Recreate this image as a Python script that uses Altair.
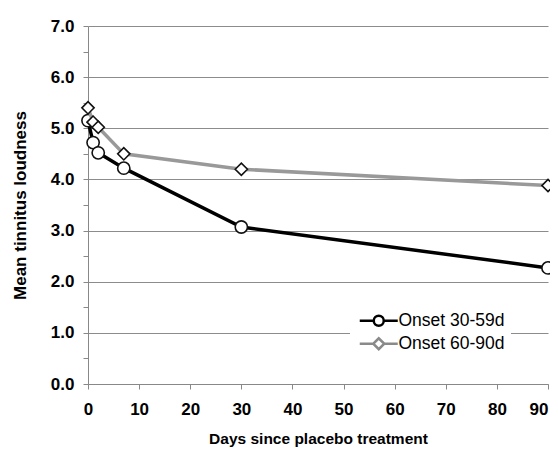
import altair as alt
import pandas as pd

series_names = ["Onset 30-59d", "Onset 60-90d"]
days_a = [0, 1, 2, 7, 30, 90]
loud_a = [5.15, 4.72, 4.52, 4.22, 3.07, 2.27]
days_b = [0, 1, 2, 7, 30, 90]
loud_b = [5.40, 5.12, 5.02, 4.50, 4.20, 3.88]
x_ticks = [0, 10, 20, 30, 40, 50, 60, 70, 80, 90]
y_ticks = [0, 0.5, 1, 1.5, 2, 2.5, 3, 3.5, 4, 4.5, 5, 5.5, 6, 6.5, 7]

line_colors = ["#000000", "#999999"]
marker_shapes = ["circle", "diamond"]
legend_strokes = ["#000000", "#8a8a8a"]
legend_paths = [
    "M-3.8,0H-1M1,0H3.8M1,0A1,1 0 1,1 -1,0A1,1 0 1,1 1,0Z",
    "M-3.8,0H-1.1M1.1,0H3.8M1.1,0L0,-1.1L-1.1,0L0,1.1Z",
]

df = pd.DataFrame({
    "day": days_a + days_b,
    "loud": loud_a + loud_b,
    "series": [series_names[0]] * len(days_a) + [series_names[1]] * len(days_b),
})

FONT = "Liberation Sans, Arial"

x_enc = alt.X(
    "day:Q",
    scale=alt.Scale(domain=[0, 90], nice=False),
    axis=alt.Axis(
        values=x_ticks, title="Days since placebo treatment", grid=False,
        labelFont=FONT, labelFontWeight="bold", labelFontSize=17, labelColor="#000",
        labelAlign={"condition": {"test": "datum.value == 90", "value": "right"}, "value": "center"},
        titleFont=FONT, titleFontWeight="bold", titleFontSize=15.5, titleColor="#000",
        domainColor="#888", tickColor="#888", tickSize=5, labelPadding=12, titlePadding=14,
        labelFlush=False,
    ),
)
y_enc = alt.Y(
    "loud:Q",
    scale=alt.Scale(domain=[0, 7], nice=False),
    axis=alt.Axis(
        values=y_ticks, title="Mean tinnitus loudness",
        labelExpr="datum.value % 1 == 0 ? format(datum.value, '.1f') : ''",
        gridOpacity={"condition": {"test": "datum.value % 1 != 0", "value": 0}, "value": 1},
        gridColor="#8c8c8c", gridWidth=1,
        labelFont=FONT, labelFontWeight="bold", labelFontSize=17, labelColor="#000",
        titleFont=FONT, titleFontWeight="bold", titleFontSize=17, titleColor="#000",
        domainColor="#888", tickColor="#888", tickSize=5, labelPadding=9, titlePadding=21,
    ),
)

base = alt.Chart(df)

layers = []
for i, s in enumerate(series_names):
    sub = base.transform_filter(alt.datum.series == s)
    layers.append(sub.mark_line(color=line_colors[i], strokeWidth=3.5).encode(x=x_enc, y=y_enc))
    layers.append(sub.mark_point(shape=marker_shapes[i], filled=True, fill="white",
                                 stroke="#111", strokeWidth=1.6, size=150, opacity=1)
                  .encode(x=x_enc, y=y_enc))

leg = alt.Legend(
    orient="none", legendX=262, legendY=280, title=None,
    fillColor="white", padding=6, symbolSize=100, symbolStrokeWidth=2.5,
    symbolFillColor="white", symbolOpacity=1, symbolOffset=14,
    labelFont=FONT, labelFontSize=17.5, labelColor="#000", labelOffset=11,
    rowPadding=2,
)
legend_layer = base.mark_point(filled=True, fill="white", opacity=0).encode(
    x=x_enc, y=y_enc,
    shape=alt.Shape("series:N", scale=alt.Scale(domain=series_names, range=legend_paths), legend=leg),
    stroke=alt.Stroke("series:N", scale=alt.Scale(domain=series_names, range=legend_strokes), legend=leg),
)
layers.append(legend_layer)

chart = alt.layer(*layers).resolve_scale(shape="independent", stroke="independent").properties(
    width=460, height=358,
    autosize=alt.AutoSizeParams(type="none"),
    padding={"left": 80, "top": 18, "right": 2, "bottom": 70},
    background="white",
).configure_view(stroke=None)

chart.save("out.html", embed_options={"renderer": "svg", "actions": False})
